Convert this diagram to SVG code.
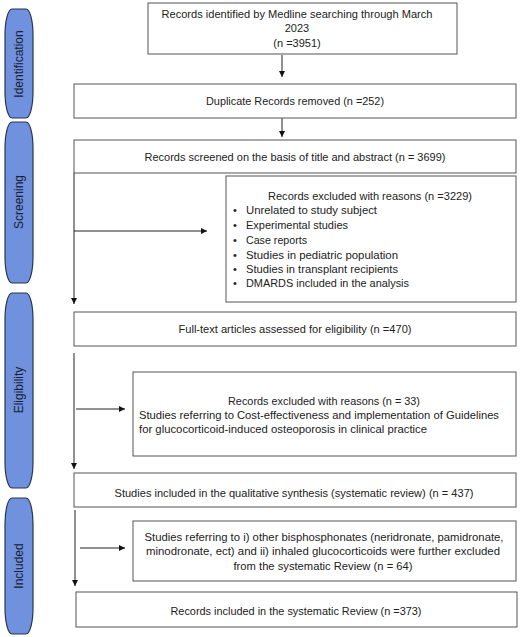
<svg xmlns="http://www.w3.org/2000/svg" width="520" height="637" viewBox="0 0 520 637">
<defs>
<style>
.box{fill:#fff;stroke:#555;stroke-width:1}
.bar{fill:#6f91de;stroke:#2a3550;stroke-width:1.2}
.t{font-family:"Liberation Sans",Arial,sans-serif;font-size:11px;fill:#222}
.c{text-anchor:middle}
.side{font-family:"Liberation Sans",Arial,sans-serif;font-size:12px;fill:#1a2030;text-anchor:middle}
.ln{stroke:#222;stroke-width:1;fill:none}
</style>
<marker id="ah" viewBox="0 0 10 10" refX="10" refY="5" markerWidth="6" markerHeight="6" markerUnits="userSpaceOnUse" orient="auto">
<path d="M0,0 L10,5 L0,10 z" fill="#111"/>
</marker>
</defs>
<rect width="520" height="637" fill="#fff"/>

<g id="phase-identification">
<rect class="bar" x="5" y="9" width="28" height="109" rx="7" ry="26"/>
<text class="side" transform="translate(23,64) rotate(-90)">Identification</text>
</g>
<g id="phase-screening">
<rect class="bar" x="5" y="122" width="28" height="161" rx="7" ry="26"/>
<text class="side" transform="translate(23,202) rotate(-90)">Screening</text>
</g>
<g id="phase-eligibility">
<rect class="bar" x="5" y="293" width="28" height="195" rx="7" ry="26"/>
<text class="side" transform="translate(23,390) rotate(-90)">Eligibility</text>
</g>
<g id="phase-included">
<rect class="bar" x="5" y="498" width="28" height="136" rx="7" ry="26"/>
<text class="side" transform="translate(23,566) rotate(-90)">Included</text>
</g>

<g id="connectors">
<line class="ln" x1="282" y1="55" x2="282" y2="77" marker-end="url(#ah)"/>
<line class="ln" x1="282" y1="118" x2="282" y2="137" marker-end="url(#ah)"/>
<line class="ln" x1="74" y1="173" x2="74" y2="304" marker-end="url(#ah)"/>
<line class="ln" x1="74" y1="231" x2="207" y2="231" marker-end="url(#ah)"/>
<line class="ln" x1="74" y1="353" x2="74" y2="469" marker-end="url(#ah)"/>
<line class="ln" x1="76" y1="409" x2="125" y2="409" marker-end="url(#ah)"/>
<line class="ln" x1="75" y1="510" x2="75" y2="586" marker-end="url(#ah)"/>
<line class="ln" x1="80" y1="548" x2="125" y2="548" marker-end="url(#ah)"/>
</g>

<g id="n1">
<rect class="box" x="148" y="3" width="309" height="51"/>
<text class="t c" x="297" y="18" textLength="271" lengthAdjust="spacingAndGlyphs">Records identified by Medline searching through March</text>
<text class="t c" x="297" y="32">2023</text>
<text class="t c" x="297" y="47">(n =3951)</text>
</g>
<g id="n2">
<rect class="box" x="74" y="84" width="442" height="34"/>
<text class="t c" x="295" y="105" textLength="178" lengthAdjust="spacingAndGlyphs">Duplicate Records removed  (n =252)</text>
</g>
<g id="n3">
<rect class="box" x="74" y="140" width="442" height="33"/>
<text class="t c" x="295" y="161" textLength="301" lengthAdjust="spacingAndGlyphs">Records screened on the basis of title and abstract (n = 3699)</text>
</g>
<g id="n4">
<rect class="box" x="226" y="176" width="290" height="126"/>
<text class="t c" x="370" y="200" textLength="204" lengthAdjust="spacingAndGlyphs">Records excluded  with reasons (n =3229)</text>
<g class="t">
<text x="233" y="214">•</text><text x="246" y="214" textLength="131" lengthAdjust="spacingAndGlyphs">Unrelated to study subject</text>
<text x="233" y="229">•</text><text x="246" y="229" textLength="102" lengthAdjust="spacingAndGlyphs">Experimental studies</text>
<text x="233" y="244">•</text><text x="246" y="244" textLength="61" lengthAdjust="spacingAndGlyphs">Case reports</text>
<text x="233" y="259">•</text><text x="246" y="259" textLength="152" lengthAdjust="spacingAndGlyphs">Studies in  pediatric population</text>
<text x="233" y="273">•</text><text x="246" y="273" textLength="152" lengthAdjust="spacingAndGlyphs">Studies in transplant recipients</text>
<text x="233" y="287">•</text><text x="246" y="287" textLength="163" lengthAdjust="spacingAndGlyphs">DMARDS included in the analysis</text>
</g>
</g>
<g id="n5">
<rect class="box" x="74" y="312" width="442" height="34"/>
<text class="t c" x="295" y="333" textLength="233" lengthAdjust="spacingAndGlyphs">Full-text articles assessed for eligibility (n =470)</text>
</g>
<g id="n6">
<rect class="box" x="133" y="372" width="383" height="84"/>
<text class="t c" x="324" y="405" textLength="192" lengthAdjust="spacingAndGlyphs">Records excluded with reasons (n = 33)</text>
<text class="t" x="139" y="419" textLength="360" lengthAdjust="spacingAndGlyphs">Studies referring to Cost-effectiveness and implementation of Guidelines</text>
<text class="t" x="139" y="433" textLength="288" lengthAdjust="spacingAndGlyphs">for glucocorticoid-induced osteoporosis in clinical practice</text>
</g>
<g id="n7">
<rect class="box" x="74" y="473" width="442" height="34"/>
<text class="t c" x="294" y="497" textLength="359" lengthAdjust="spacingAndGlyphs">Studies included in the qualitative synthesis (systematic review) (n = 437)</text>
</g>
<g id="n8">
<rect class="box" x="133" y="521" width="383" height="60"/>
<text class="t c" x="324" y="541" textLength="359" lengthAdjust="spacingAndGlyphs">Studies referring  to i) other bisphosphonates (neridronate, pamidronate,</text>
<text class="t c" x="323" y="555" textLength="354" lengthAdjust="spacingAndGlyphs">minodronate,  ect)  and ii) inhaled glucocorticoids were further excluded</text>
<text class="t c" x="323" y="570" textLength="179" lengthAdjust="spacingAndGlyphs">from the systematic Review  (n = 64)</text>
</g>
<g id="n9">
<rect class="box" x="76" y="592" width="441" height="35"/>
<text class="t c" x="296" y="615" textLength="251" lengthAdjust="spacingAndGlyphs">Records included in the systematic Review (n =373)</text>
</g>
</svg>
